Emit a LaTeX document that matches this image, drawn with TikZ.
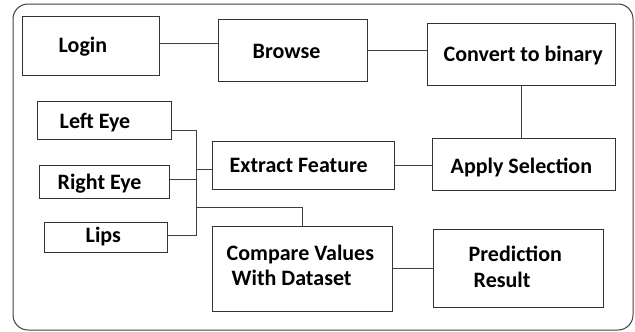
\documentclass[tikz,border=0pt]{standalone}
\usepackage{fontspec}
\setmainfont{Carlito}
\begin{document}
\begin{tikzpicture}[x=1pt,y=-1pt,
  box/.style={draw=black!80, line width=1pt, minimum width=#1, inner sep=0pt},
  txt/.style={font=\bfseries\fontsize{22}{25.5}\selectfont, inner sep=0pt, anchor=west, align=left},
  wire/.style={draw=black!75, line width=0.9pt},
  frame/.style={draw=black!75, line width=1pt, rounded corners=15pt}]
\useasboundingbox (0,0) rectangle (635,332);
\draw[frame] (13,4) rectangle (633,330);

% boxes
\node[box=137pt, minimum height=59pt] (login)   at (90.5,45.5) {};
\node[box=149pt, minimum height=62pt] (browse)  at (292.5,50) {};
\node[box=188pt, minimum height=62pt] (convert) at (521,54) {};
\node[box=134pt, minimum height=38pt] (leye)    at (104,120) {};
\node[box=130pt, minimum height=33pt] (reye)    at (104,181.5) {};
\node[box=123pt, minimum height=30pt] (lips)    at (105.5,237) {};
\node[box=182pt, minimum height=48pt] (extract) at (303,165) {};
\node[box=183pt, minimum height=52pt] (apply)   at (523.5,164) {};
\node[box=180pt, minimum height=85pt] (compare) at (302,268.5) {};
\node[box=170pt, minimum height=78pt] (predict) at (518,268) {};

% labels
\node[txt] (tlogin)   at ([xshift=37pt,yshift=-1pt]login.west)   {Login};
\node[txt] (tbrowse)  at ([xshift=35pt,yshift=-1pt]browse.west)  {Browse};
\node[txt] (tconvert) at ([xshift=17pt,yshift=-2pt]convert.west) {Convert to binary};
\node[txt] (tleye)    at ([xshift=23pt,yshift=-3pt]leye.west)    {Left Eye};
\node[txt] (treye)    at ([xshift=19pt,yshift=-2pt]reye.west)    {Right Eye};
\node[txt] (tlips)    at ([xshift=42pt]lips.west)    {Lips};
\node[txt] (textract) at ([xshift=18pt]extract.west) {Extract Feature};
\node[txt] (tapply)   at ([xshift=19pt,yshift=-3.5pt]apply.west)   {Apply Selection};
\node[txt] (tcompare) at ([xshift=15pt,yshift=3pt]compare.west) {Compare Values\\\hspace*{5pt}With Dataset};
\node[txt] (tpredict) at ([xshift=36pt,yshift=1pt]predict.west) {Prediction\\\hspace*{5pt}Result};

% connectors along the top row
\draw[wire] ([yshift=2.5pt]login.east) -- ([yshift=2.5pt]login.east -| browse.west);
\draw[wire] (browse.east) -- (browse.east -| convert.west);
\draw[wire] (convert.south) -- (convert.south |- apply.north);
\draw[wire] (extract.east) -- (extract.east -| apply.west);
\draw[wire] (compare.east) -- (compare.east -| predict.west);

% feature bus
\coordinate (bustop) at (196,130);
\coordinate (busbot) at (196,235);
\coordinate (busmid) at (196,207);
\coordinate (busext) at (196,169);
\draw[wire] (leye.east |- bustop) -- (bustop) -- (busbot) -- (lips.east |- busbot);
\draw[wire] ([yshift=2.5pt]reye.east) -- ([yshift=2.5pt]reye.east -| bustop);
\draw[wire] (busext) -- (busext -| extract.west);
\draw[wire] (busmid) -- (busmid -| compare.north) -- (compare.north);
\end{tikzpicture}
\end{document}
